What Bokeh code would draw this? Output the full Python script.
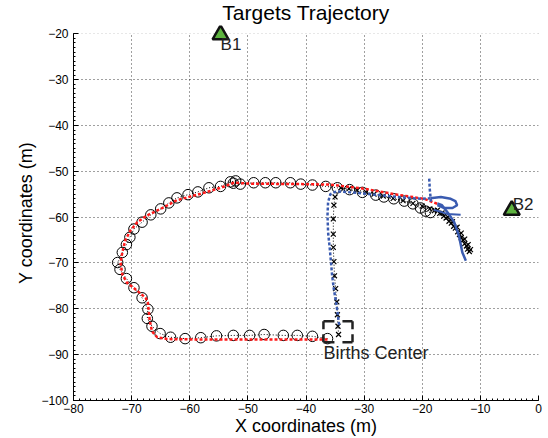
from bokeh.plotting import figure
from bokeh.models import Range1d, FixedTicker, Title, BoxAnnotation
from bokeh.embed import file_html
from bokeh.resources import INLINE
from bokeh.core.properties import value

# ---------------- data ----------------
X_TICKS = [-80, -70, -60, -50, -40, -30, -20, -10, 0]
Y_TICKS = [-100, -90, -80, -70, -60, -50, -40, -30, -20]
X_TICK_LABELS = ["\u221280", "\u221270", "\u221260", "\u221250", "\u221240",
                 "\u221230", "\u221220", "\u221210", "0"]
Y_TICK_LABELS = ["\u2212100", "\u221290", "\u221280", "\u221270", "\u221260",
                 "\u221250", "\u221240", "\u221230", "\u221220"]

# target 1 ground truth (circles)
T1_GT_X = [-36.3, -38.9, -41.5, -43.9, -47.2, -49.7, -52.5, -55.4, -58.1, -60.8,
           -63.3, -65.1, -66.5, -67.3, -67.2, -68.2, -69.6, -70.9, -72.0, -72.4,
           -71.6, -70.9, -70.3, -69.6, -68.2, -66.7, -65.0, -63.6, -62.2, -60.3,
           -58.6, -56.7, -54.7, -53.0, -52.1, -52.5, -51.3, -49.0, -47.0, -45.2,
           -42.7, -40.9, -38.9, -36.6, -34.6, -32.5, -30.3, -28.0, -26.6, -24.9,
           -23.1, -21.6, -20.3, -19.4, -18.6]
T1_GT_Y = [-86.5, -86.0, -85.8, -85.8, -85.6, -85.8, -85.8, -85.9, -86.3, -86.5,
           -86.2, -85.4, -83.8, -82.1, -80.1, -77.6, -75.4, -73.4, -71.4, -69.9,
           -67.7, -66.0, -64.4, -62.6, -61.1, -59.5, -58.2, -56.9, -55.8, -55.1,
           -54.5, -53.6, -53.3, -52.3, -52.1, -52.6, -52.8, -52.5, -52.5, -52.5,
           -52.5, -52.8, -53.0, -53.3, -53.6, -54.0, -54.6, -55.2, -55.6, -56.0,
           -56.5, -57.1, -58.0, -58.7, -59.0]

# target 2 ground truth (crosses)
T2_GT_X = [-34.4, -34.5, -34.6, -34.7, -34.9, -35.1, -35.2, -35.3, -35.3, -35.3,
           -35.2, -35.0, -34.0, -32.6, -31.2, -29.7, -28.3, -26.7, -25.0, -23.3,
           -21.6, -20.0, -18.7, -17.9, -17.4, -17.0, -16.6, -16.3, -15.9, -15.6,
           -15.4, -15.0, -14.8, -14.6, -14.3, -14.0, -13.9, -13.6, -13.3, -13.3,
           -13.0, -12.7, -12.7, -12.4, -12.1, -12.2, -11.9, -11.7]
T2_GT_Y = [-85.6, -83.8, -81.3, -78.5, -75.6, -72.8, -69.7, -66.6, -63.7, -60.4,
           -57.4, -55.6, -53.6, -53.8, -54.1, -54.5, -55.0, -55.4, -55.9, -56.4,
           -57.0, -57.6, -58.2, -58.6, -58.5, -59.2, -59.1, -59.8, -60.2, -60.0,
           -60.9, -61.3, -61.0, -62.0, -62.4, -62.2, -63.2, -63.8, -63.5, -64.5,
           -65.0, -64.8, -65.8, -66.3, -66.0, -67.0, -67.5, -67.1]

# target 1 estimate (red)
T1_EST_X = [-36.3, -44.0, -52.4, -58.0, -63.9, -65.6, -66.5, -66.9, -67.2, -67.6,
            -69.0, -70.8, -71.6, -71.9, -71.6, -71.1, -70.2, -69.0, -67.3, -65.0,
            -62.2, -58.1, -54.7, -52.4, -49.5, -40.9, -35.8, -30.0, -24.3, -19.7,
            -17.4]
T1_EST_Y = [-86.7, -86.7, -86.7, -86.7, -86.6, -86.2, -84.9, -82.4, -78.7, -77.6,
            -76.1, -74.3, -72.5, -69.9, -67.7, -65.1, -62.9, -61.1, -59.6, -58.2,
            -56.3, -54.9, -53.6, -52.5, -52.7, -52.8, -52.9, -53.8, -55.1, -56.0,
            -57.1]

# target 2 estimate (blue): main track and side strands
T2_EST_X = [-34.3, -34.6, -34.9, -35.2, -35.5, -35.7, -35.9, -36.2, -36.3, -36.2,
            -35.8, -35.0, -34.0, -32.3, -28.9, -24.3, -20.3, -18.6]
T2_EST_Y = [-83.5, -80.5, -78.0, -75.8, -72.8, -69.9, -67.0, -63.3, -59.6, -56.7,
            -55.0, -54.5, -54.4, -54.6, -55.0, -55.6, -56.0, -55.9]
T2_LOOP_X = [-18.6, -16.8, -15.1, -14.3, -14.0, -14.8, -16.3, -17.4]
T2_LOOP_Y = [-55.9, -55.6, -56.0, -56.5, -57.4, -58.0, -58.0, -57.4]
T2_VERT_X = [-18.8, -18.7, -18.5]
T2_VERT_Y = [-51.6, -54.0, -56.6]
T2_DIAG_X = [-17.4, -16.6, -15.5, -14.5, -13.7, -13.1, -12.5]
T2_DIAG_Y = [-57.0, -57.4, -59.2, -61.1, -64.0, -67.7, -69.5]
T2_BAR_X = [-18.0, -15.7, -13.4]
T2_BAR_Y = [-58.4, -59.3, -59.5]

# sensors
SENSOR_X = [-54.7, -4.6]
SENSOR_Y = [-20.2, -58.5]
SENSOR_LABELS = ["B1", "B2"]

# births center box
BIRTH_X = -34.5
BIRTH_Y = -85.0
BIRTH_HW = 2.5
BIRTH_HH = 2.3
BIRTH_LABEL = "Births Center"

FONT = "Liberation Sans"
Y_MIN, Y_MAX = -100, -20
X_MIN, X_MAX = -80, 0

# the frame reaches a little above Y_MAX so the B1 marker is not clipped
p = figure(width=548, height=438, output_backend="svg", toolbar_location=None,
           x_range=Range1d(X_MIN, X_MAX), y_range=Range1d(Y_MIN, Y_MAX + 1.8),
           min_border_left=73, min_border_right=10, min_border_top=25,
           min_border_bottom=4)
p.title = Title(text="Targets Trajectory", align="center", text_font=FONT,
                text_font_size="21px", text_font_style="normal",
                text_color="black", standoff=0, vertical_align="top")
p.outline_line_color = None
p.background_fill_color = "white"
p.border_fill_color = "white"

p.xaxis.ticker = FixedTicker(ticks=X_TICKS, minor_ticks=list(range(X_MIN, X_MAX + 1)))
p.yaxis.ticker = FixedTicker(ticks=Y_TICKS, minor_ticks=list(range(Y_MIN, Y_MAX + 1)))
p.yaxis.bounds = (Y_MIN, Y_MAX)
p.xaxis.major_label_overrides = {t: l for t, l in zip(X_TICKS, X_TICK_LABELS)}
p.yaxis.major_label_overrides = {t: l for t, l in zip(Y_TICKS, Y_TICK_LABELS)}
p.xaxis.axis_label = "X coordinates (m)"
p.yaxis.axis_label = "Y coordinates (m)"
for ax in (p.xaxis, p.yaxis):
    ax.axis_line_color = "black"
    ax.major_tick_line_color = "black"
    ax.minor_tick_line_color = "black"
    ax.major_tick_in = 5
    ax.major_tick_out = 0
    ax.minor_tick_in = 2
    ax.minor_tick_out = 0
    ax.major_label_text_font = FONT
    ax.major_label_text_font_size = "12px"
    ax.major_label_text_color = "black"
    ax.axis_label_text_font = FONT
    ax.axis_label_text_font_size = "18px"
    ax.axis_label_text_font_style = "normal"
    ax.axis_label_text_color = "black"
p.xaxis.major_label_standoff = 3
p.yaxis.major_label_standoff = 5
p.xaxis.axis_label_standoff = 0
p.yaxis.axis_label_standoff = 2

p.grid.grid_line_color = "black"
p.grid.grid_line_dash = "1 3"
p.grid.grid_line_alpha = 0.75

# hide the grid above the top of the data area
p.add_layout(BoxAnnotation(bottom=Y_MAX, fill_color="white", fill_alpha=1.0,
                           line_alpha=0, level="underlay"))

# ground truth
p.line(T1_GT_X, T1_GT_Y, line_color="black", line_dash="1 2", line_width=1)
p.scatter(T1_GT_X, T1_GT_Y, marker="circle", size=10.5, fill_color=None,
          line_color="black", line_width=1)
p.line(T2_GT_X, T2_GT_Y, line_color="black", line_dash="1 2", line_width=1)
p.scatter(T2_GT_X, T2_GT_Y, marker="x", size=7, line_color="black", line_width=1.2)

# estimates
RED = "#ff1a1a"
BLUE = "#3a5bb0"
p.line(T1_EST_X, T1_EST_Y, line_color=RED, line_dash="3 2", line_width=2.5)
p.line(T2_EST_X, T2_EST_Y, line_color=BLUE, line_dash="3 2", line_width=2.5)
p.line(T2_LOOP_X, T2_LOOP_Y, line_color=BLUE, line_width=2.5)
p.line(T2_VERT_X, T2_VERT_Y, line_color=BLUE, line_dash="3 2", line_width=2.5)
p.line(T2_DIAG_X, T2_DIAG_Y, line_color=BLUE, line_width=2.5)
p.line(T2_BAR_X, T2_BAR_Y, line_color=BLUE, line_width=2)

# births center box (dashed)
bx0, bx1 = BIRTH_X - BIRTH_HW, BIRTH_X + BIRTH_HW
by0, by1 = BIRTH_Y - BIRTH_HH, BIRTH_Y + BIRTH_HH
p.segment(x0=[bx0, bx0], y0=[by1, by0], x1=[bx1, bx1], y1=[by1, by0],
          line_color="#222222", line_width=2.5, line_dash="11 8")
p.segment(x0=[bx0, bx1], y0=[by1, by1], x1=[bx0, bx1], y1=[by0, by0],
          line_color="#222222", line_width=2.5, line_dash="8 5")
p.text(x=[bx0], y=[by0], text=[BIRTH_LABEL], text_font=value(FONT),
       text_font_size="18px", text_align="left", text_baseline="top",
       x_offset=0, y_offset=1, text_color="#222222")

# sensors
p.scatter(SENSOR_X, SENSOR_Y, marker="triangle", size=16, fill_color="#5db33f",
          line_color="#111111", line_width=2.5)
p.text(x=SENSOR_X[:1], y=SENSOR_Y[:1], text=SENSOR_LABELS[:1], text_font=value(FONT),
       text_font_size="17px", text_align="left", text_baseline="top",
       x_offset=0, y_offset=0, text_color="#222222")
p.text(x=SENSOR_X[1:], y=SENSOR_Y[1:], text=SENSOR_LABELS[1:], text_font=value(FONT),
       text_font_size="17px", text_align="left", text_baseline="bottom",
       x_offset=1, y_offset=4, text_color="#222222")

open("out.html", "w").write(file_html(p, INLINE))
